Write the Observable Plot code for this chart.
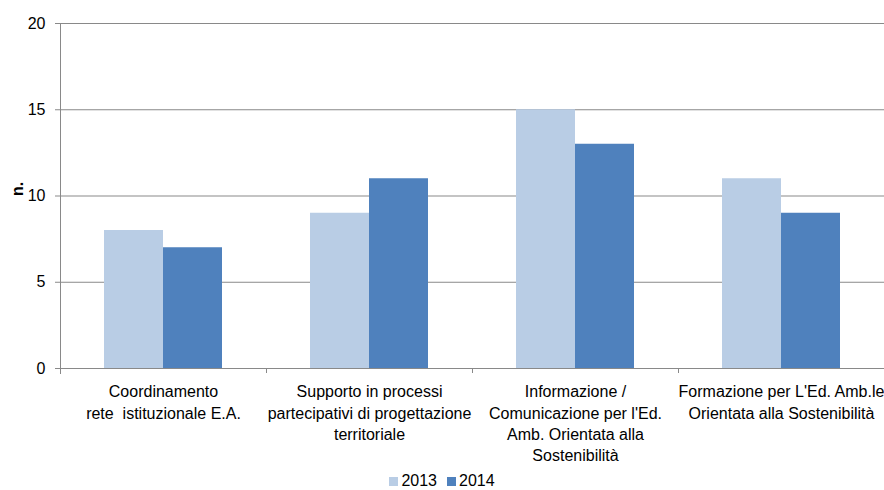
<!DOCTYPE html>
<html>
<head>
<meta charset="utf-8">
<script src="https://cdn.jsdelivr.net/npm/d3@7"></script>
<script src="https://cdn.jsdelivr.net/npm/@observablehq/plot@0.6"></script>
<style>
  html, body { margin: 0; padding: 0; background: #fff; }
  body { width: 884px; height: 490px; overflow: hidden; font-family: "Liberation Sans", Arial, sans-serif; color: #000; }
  #legend { display: flex; justify-content: center; align-items: center; font-size: 16px; line-height: 16px; height: 16px; margin-top: 3px; }
  #legend .item { display: flex; align-items: center; margin: 0 5px; }
  #legend .sw { width: 9px; height: 9px; margin-right: 3px; }
</style>
</head>
<body>
<div id="chart"></div>
<div id="legend"></div>
<script>
// Activity categories (line breaks as displayed under each group)
const categories = [
  "Coordinamento\nrete  istituzionale E.A.",
  "Supporto in processi\npartecipativi di progettazione\nterritoriale",
  "Informazione /\nComunicazione per l'Ed.\nAmb. Orientata alla\nSostenibilità",
  "Formazione per L'Ed. Amb.le\nOrientata alla Sostenibilità"
];
const years = ["2013", "2014"];
const values2013 = [8, 9, 15, 11];
const values2014 = [7, 11, 13, 9];
const yTicks = [0, 5, 10, 15, 20];
const yLabel = "n.";
const colors = ["#b9cde5", "#4f81bd"];

const rows = categories.flatMap((c, i) => [
  {category: c, year: years[0], value: values2013[i]},
  {category: c, year: years[1], value: values2014[i]}
]);

const gray = "#898989";

const chart = Plot.plot({
  width: 884,
  height: 470,
  marginLeft: 60,
  marginRight: 0,
  marginTop: 23,
  marginBottom: 102,
  style: {fontFamily: "'Liberation Sans', Arial, sans-serif", fontSize: "16px", color: "#000", background: "#fff"},
  fx: {domain: categories, padding: 0, label: null},
  x: {domain: years, paddingInner: 0, paddingOuter: 0.73, axis: null},
  y: {domain: [0, 20], label: null},
  color: {domain: years, range: colors},
  marks: [
    Plot.gridY(yTicks, {stroke: gray, strokeOpacity: 1}),
    Plot.barY(rows, {fx: "category", x: "year", y: "value", fill: "year"}),
    Plot.frame({anchor: "left", facetAnchor: "left", stroke: gray, insetBottom: -5}),
    Plot.axisY(yTicks, {tickSize: 5, tickPadding: 10, stroke: gray, label: null}),
    Plot.text([yLabel], {frameAnchor: "left", dx: -43, rotate: -90, fontWeight: "bold", facetAnchor: "left", fontSize: 16}),
    Plot.axisFx({anchor: "bottom", tickSize: 0, tickPadding: 14, lineHeight: 1.32, label: null}),
    Plot.axisFx({anchor: "bottom", tickSize: 5, tickFormat: () => "", dx: -103, stroke: gray, label: null})
  ]
});
document.getElementById("chart").appendChild(chart);

// Legend
const legend = document.getElementById("legend");
years.forEach((y, i) => {
  const item = document.createElement("div");
  item.className = "item";
  const sw = document.createElement("span");
  sw.className = "sw";
  sw.style.background = colors[i];
  const t = document.createElement("span");
  t.textContent = y;
  item.appendChild(sw);
  item.appendChild(t);
  legend.appendChild(item);
});
</script>
</body>
</html>
